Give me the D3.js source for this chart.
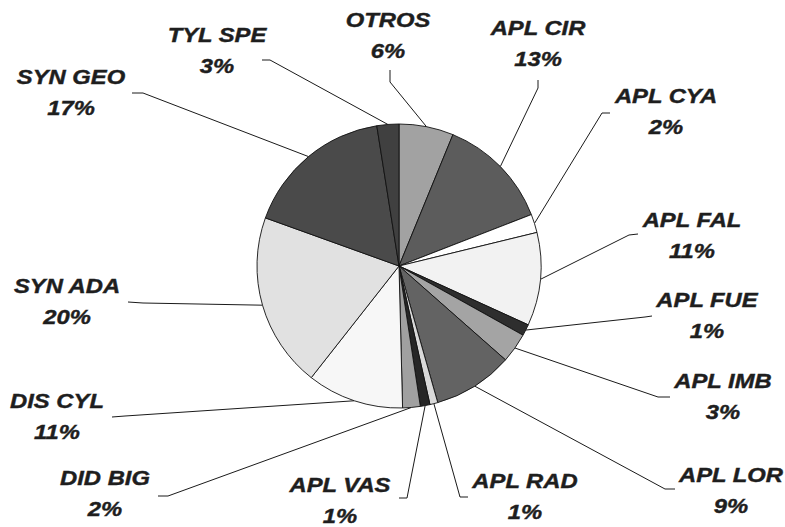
<!DOCTYPE html>
<html>
<head>
<meta charset="utf-8">
<script src="https://cdn.jsdelivr.net/npm/d3@7"></script>
<style>
	body { margin: 0; background: #fff; }
	text { font-family: "Liberation Sans", Arial, sans-serif; font-weight: bold; font-style: italic; }
</style>
</head>
<body>
<div id="chart"></div>
<script>
/** Data (clockwise from 12 o'clock) **/
var species = ["OTROS", "APL CIR", "APL CYA", "APL FAL", "APL FUE", "APL IMB", "APL LOR",
	"APL RAD", "APL VAS", "DID BIG", "DIS CYL", "SYN ADA", "SYN GEO", "TYL SPE"];
var shares = [6.2, 12.9, 2.1, 10.6, 1.3, 3.4, 9.1, 0.9, 1.1, 2.0, 11.0, 19.9, 17.0, 2.5];
var greys = ["#a2a2a2", "#5c5c5c", "#ffffff", "#f2f2f2", "#2e2e2e", "#a4a4a4", "#636363",
	"#d9d9d9", "#262626", "#a0a0a0", "#f7f7f7", "#e1e1e1", "#4a4a4a", "#404040"];

// layout: label centre (x, baseline of name) and leader start / elbow
var labelPos = [[388, 27], [538, 35], [666, 103], [692, 227], [707, 307], [723, 388], [731, 482],
	[525, 488], [340, 492], [105, 485], [57, 408], [67, 293], [71, 84], [217, 42]];
var leaderStart = [[390, 70], [538, 80], [610, 113], [638, 234], [652, 316], [670, 397], [675, 489],
	[468, 497], [399, 498], [158, 496], [112, 417], [128, 302], [132, 93], [262, 60]];
var leaderElbow = [[390, 82], [538, 88], [602, 113], [629, 235], [645, 317], [658, 397], [665, 489],
	[460, 497], [407, 498], [168, 496], [125, 416], [143, 303], [143, 93], [270, 60]];

function drawPie()
{
	var width = 785;
	var height = 527;
	var cx = 399, cy = 266, radius = 142;

	var svg = d3.select("#chart")
		.append("svg")
		.attr("width", width)
		.attr("height", height);

	var slices = species.map(function(name, i) {
		return { name: name, value: shares[i], idx: i };
	});

	var pie = d3.pie()
		.sort(null)
		.value(function(d) { return d.value; });

	var arc = d3.arc()
		.innerRadius(0)
		.outerRadius(radius);

	var arcs = pie(slices);

	// leader lines
	svg.append("g")
		.selectAll("polyline")
		.data(arcs)
		.enter()
		.append("polyline")
		.attr("fill", "none")
		.attr("stroke", "#1a1a1a")
		.attr("stroke-width", 1)
		.attr("points", function(d) {
			var i = d.data.idx;
			var mid = (d.startAngle + d.endAngle) / 2;
			var ex = cx + radius * Math.sin(mid);
			var ey = cy - radius * Math.cos(mid);
			return [leaderStart[i], leaderElbow[i], [ex, ey]].join(" ");
		});

	// slices
	svg.append("g")
		.attr("transform", "translate(" + cx + "," + cy + ")")
		.selectAll("path")
		.data(arcs)
		.enter()
		.append("path")
		.attr("d", arc)
		.attr("fill", function(d) { return greys[d.data.idx]; })
		.attr("stroke", "#111")
		.attr("stroke-width", 0.9);

	// labels
	var lab = svg.append("g")
		.selectAll("g")
		.data(arcs)
		.enter()
		.append("g")
		.attr("transform", function(d) {
			var p = labelPos[d.data.idx];
			return "translate(" + p[0] + "," + p[1] + ") scale(1.22,1)";
		});

	lab.append("text")
		.attr("text-anchor", "middle")
		.attr("font-size", 19.5)
		.attr("fill", "#1e1e1e")
		.attr("stroke", "#1e1e1e")
		.attr("stroke-width", 0.4)
		.text(function(d) { return d.data.name; });

	lab.append("text")
		.attr("text-anchor", "middle")
		.attr("font-size", 19.5)
		.attr("y", 31)
		.attr("fill", "#1e1e1e")
		.attr("stroke", "#1e1e1e")
		.attr("stroke-width", 0.4)
		.text(function(d) { return Math.round(d.data.value) + "%"; });
}

drawPie();
</script>
</body>
</html>
